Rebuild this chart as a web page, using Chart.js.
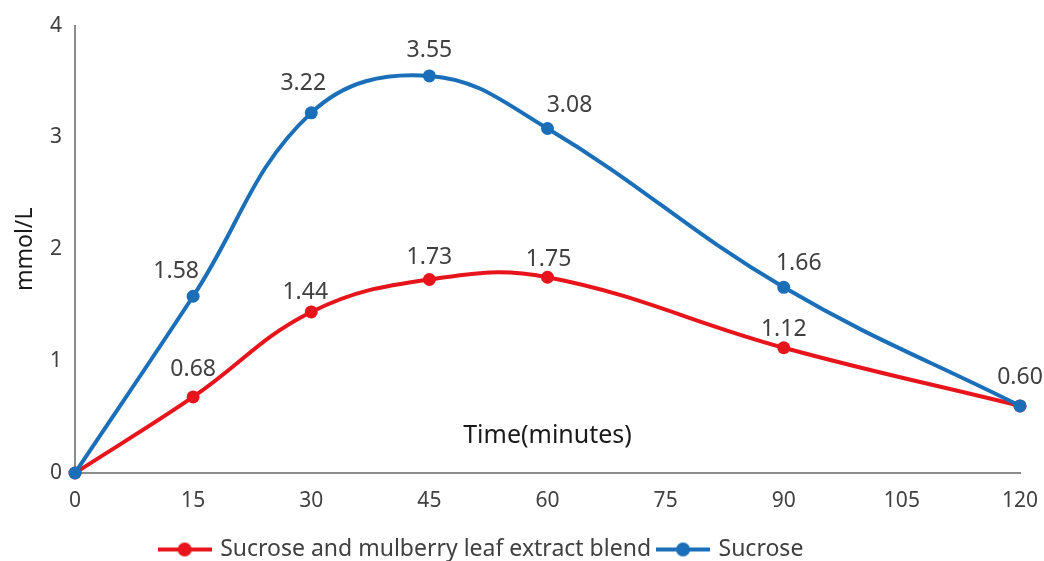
<!DOCTYPE html>
<html lang="en">
  <head>
    <meta charset="UTF-8" />
    <title>Glucose curve</title>
    <script src="https://cdn.jsdelivr.net/npm/chart.js@4.4.0/dist/chart.umd.min.js"></script>
  </head>
  <body style="margin:0; background:#fff">
    <div style="width:1044px; height:561px">
      <canvas id="myChart" width="1044" height="561"></canvas>
    </div>
    <script>
      // data
      const times = [0, 15, 30, 45, 60, 90, 120];
      const blendValues = [0, 0.68, 1.44, 1.73, 1.75, 1.12, 0.60];
      const sucroseValues = [0, 1.58, 3.22, 3.55, 3.08, 1.66, 0.60];
      const xTicks = [0, 15, 30, 45, 60, 75, 90, 105, 120];
      const yTicks = [0, 1, 2, 3, 4];
      const seriesNames = ['Sucrose and mulberry leaf extract blend', 'Sucrose'];

      // where each value label sits relative to its point (px), null = no label
      const blendLabelOffsets = [null, [0, -27], [-6, -19], [0, -22], [1, -18], [0, -18], null];
      const sucroseLabelOffsets = [null, [-17, -25], [-8, -29], [0, -25], [22, -23], [15, -24], [0, -28]];

      const RED = '#e8141c';
      const BLUE = '#1a6fb8';
      const FONT = '"Noto Sans", "Open Sans", sans-serif';
      const TEXT = '#404040';

      function legendIcon(color) {
        const c = document.createElement('canvas');
        c.width = 54; c.height = 16;
        const g = c.getContext('2d');
        g.strokeStyle = color; g.lineWidth = 4;
        g.beginPath(); g.moveTo(0, 8); g.lineTo(54, 8); g.stroke();
        g.fillStyle = color;
        g.beginPath(); g.arc(27, 8, 7, 0, Math.PI * 2); g.fill();
        return c;
      }

      function toPoints(vals) {
        return vals.map((v, i) => ({ x: times[i], y: v }));
      }

      const valueLabels = {
        id: 'valueLabels',
        afterDatasetsDraw(chart) {
          const ctx = chart.ctx;
          const offs = [blendLabelOffsets, sucroseLabelOffsets];
          const vals = [blendValues, sucroseValues];
          ctx.save();
          ctx.font = '23px ' + FONT;
          ctx.fillStyle = TEXT;
          ctx.textAlign = 'center';
          ctx.textBaseline = 'middle';
          chart.data.datasets.forEach((ds, d) => {
            chart.getDatasetMeta(d).data.forEach((pt, i) => {
              const o = offs[d][i];
              if (!o) return;
              ctx.fillText(vals[d][i].toFixed(2), pt.x + o[0], pt.y + o[1]);
            });
          });
          // x axis title sits inside the plot, as in the original
          ctx.font = '25px ' + FONT;
          ctx.fillStyle = '#1a1a1a';
          ctx.fillText('Time(minutes)', chart.scales.x.getPixelForValue(60), chart.scales.y.getPixelForValue(0.33));
          ctx.restore();
        }
      };

      const shiftLegend = {
        id: 'shiftLegend',
        afterLayout(chart) {
          chart.legend.left -= 40;
          chart.legend.right -= 40;
          chart.legend.top += 10;
          chart.legend.bottom += 10;
        }
      };

      const ctx = document.getElementById('myChart').getContext('2d');
      const myChart = new Chart(ctx, {
        type: 'line',
        data: {
          datasets: [
            {
              label: seriesNames[0],
              data: toPoints(blendValues),
              borderColor: RED,
              backgroundColor: RED,
              borderWidth: 4,
              pointRadius: 6.5,
              pointHoverRadius: 6.5,
              pointBorderWidth: 0,
              pointStyle: 'circle',
              tension: 0.4,
              order: 1,
              fill: false
            },
            {
              label: seriesNames[1],
              data: toPoints(sucroseValues),
              borderColor: BLUE,
              backgroundColor: BLUE,
              borderWidth: 4,
              pointRadius: 6.5,
              pointHoverRadius: 6.5,
              pointBorderWidth: 0,
              pointStyle: 'circle',
              tension: 0.4,
              order: 0,
              fill: false
            }
          ]
        },
        options: {
          responsive: false,
          animation: false,
          clip: false,
          layout: { padding: { top: 22, right: 0, left: 0, bottom: 0 } },
          plugins: {
            tooltip: { enabled: false },
            legend: {
              position: 'bottom',
              labels: {
                usePointStyle: true,
                pointStyleWidth: 48,
                padding: 8,
                color: TEXT,
                font: { family: FONT, size: 23 },
                sort: (a, b) => a.datasetIndex - b.datasetIndex,
                generateLabels(chart) {
                  return chart.data.datasets.map((ds, i) => ({
                    text: ds.label,
                    pointStyle: legendIcon(ds.borderColor),
                    fillStyle: ds.borderColor,
                    strokeStyle: ds.borderColor,
                    lineWidth: 0,
                    fontColor: TEXT,
                    datasetIndex: i
                  }));
                }
              }
            }
          },
          scales: {
            x: {
              type: 'linear',
              min: 0,
              max: 120,
              afterBuildTicks(s) { s.ticks = xTicks.map(v => ({ value: v })); },
              afterFit(s) { s.height = 47; s.paddingRight = 24; },
              grid: { display: false, drawTicks: false },
              border: { display: true, color: '#8c8c8c', width: 2 },
              ticks: { color: TEXT, padding: 15, maxRotation: 0, font: { family: FONT, size: 21 } }
            },
            y: {
              min: 0,
              max: 4,
              afterBuildTicks(s) { s.ticks = yTicks.map(v => ({ value: v })); },
              afterFit(s) { s.width = 75; },
              grid: { display: false, drawTicks: false },
              border: { display: true, color: '#8c8c8c', width: 2 },
              ticks: { color: TEXT, padding: 13, font: { family: FONT, size: 21 } },
              title: { display: true, text: 'mmol/L', color: '#1a1a1a', padding: { top: 12, bottom: 0 }, font: { family: FONT, size: 23 } }
            }
          }
        },
        plugins: [valueLabels, shiftLegend]
      });
    </script>
  </body>
</html>
